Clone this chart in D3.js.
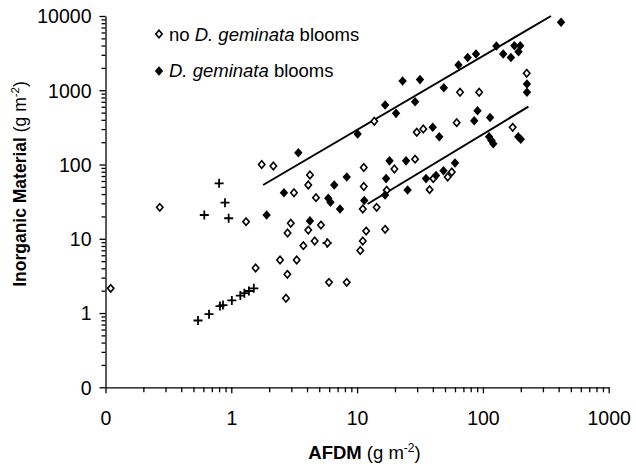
<!DOCTYPE html>
<html>
<head>
<meta charset="utf-8">
<script src="https://cdnjs.cloudflare.com/ajax/libs/d3/7.8.5/d3.min.js"></script>
<style>
  body { margin: 0; background: #fff; }
  svg { display: block; font-family: Arial, "Liberation Sans", sans-serif; }
</style>
</head>
<body>
<div id="chart"></div>
<script>
// Inorganic material vs AFDM, log-log scatter

// Sites without D. geminata blooms (open diamonds)
const noBloomAfdm = [0.11, 0.27, 1.31, 1.56, 1.745, 2.16, 2.44, 2.79, 2.72, 3.31, 2.8, 3.74, 4.09, 4.6,
  2.97, 3.15, 4.09, 4.22, 4.71, 5.16, 5.82, 5.98, 8.27, 10.6, 11.1, 11.8, 16.7, 11.3, 11.3, 11.1,
  14.3, 17.2, 19.8, 13.7, 28.9, 37.7, 40.3, 52.5, 56.6, 29.8, 33.6, 61.9, 65.8, 93.4, 172.5, 223];
const noBloomInorg = [2.15, 26.5, 17.0, 4.04, 100, 95.5, 5.18, 3.32, 1.58, 5.18, 11.96, 8.07, 13.1, 9.33,
  16.2, 41.7, 53.0, 72.3, 35.8, 15.3, 8.77, 2.59, 2.59, 6.95, 9.33, 12.7, 13.4, 91.2, 50.6, 25.2,
  26.5, 45.0, 87.0, 382, 118, 45.9, 64.6, 67.9, 79.3, 272, 301, 366, 939, 939, 317, 1692];

// Sites with D. geminata blooms (filled diamonds)
const bloomAfdm = [1.91, 2.62, 3.41, 4.22, 5.9, 6.14, 6.58, 7.31, 8.27, 10.1, 11.4, 16.7, 17.0, 16.7,
  18.1, 20.4, 23.0, 24.5, 25.2, 28.9, 31.6, 35.3, 39.9, 42.4, 45.0, 48.6, 60.0, 48.9, 64.0, 75.7,
  88.1, 85.3, 90.6, 112, 117, 121, 114, 128, 145, 167, 178, 198, 192, 191, 200, 224, 224, 418];
const bloomInorg = [20.9, 41.7, 144, 17.4, 35.1, 31.0, 53.0, 25.2, 67.9, 258, 32.8, 633, 64.6, 38.9,
  112, 489, 1332, 112, 45.4, 701, 1392, 64.6, 317, 71.1, 237, 82.5, 105, 1082, 2188, 2761,
  3078, 388, 529, 237, 211, 190, 430, 3945, 3078, 2761, 3969, 3969, 3305, 237, 219, 1214, 939, 8225];

// Other points (crosses, not in legend)
const otherAfdm = [0.544, 0.665, 0.813, 0.859, 1.01, 1.18, 1.27, 1.38, 1.51, 0.80, 0.891, 0.61, 0.953, 5.77];
const otherInorg = [0.793, 0.965, 1.24, 1.28, 1.48, 1.72, 1.85, 1.98, 2.15, 55.9, 30.6, 20.9, 18.9, 8.77];

// Fitted lines (end points)
const upperLineAfdm = [1.79, 348];
const upperLineInorg = [53.0, 10000];
const lowerLineAfdm = [12.1, 230];
const lowerLineInorg = [29.4, 601];

// Axis ticks
const xTickValues = [0.1, 1, 10, 100, 1000];
const xTickLabels = ["0", "1", "10", "100", "1000"];
const yTickValues = [0.1, 1, 10, 100, 1000, 10000];
const yTickLabels = ["0", "1", "10", "100", "1000", "10000"];

const width = 636, height = 464;

const svg = d3.select("#chart").append("svg")
  .attr("width", width)
  .attr("height", height);

const x = d3.scaleLog().domain([0.1, 1000]).range([105.5, 608.7]);
const y = d3.scaleLog().domain([0.1, 10000]).range([387.3, 16]);

// minor ticks 2..9 within each decade
function minorTicks(values) {
  const out = [];
  for (let i = 0; i < values.length - 1; i++) {
    for (let k = 2; k <= 9; k++) out.push(values[i] * k);
  }
  return out;
}

// x axis
const xAxisG = svg.append("g").attr("transform", `translate(0,${y(0.1)})`);
xAxisG.call(d3.axisBottom(x).tickValues(minorTicks(xTickValues)).tickSize(5).tickSizeOuter(0).tickFormat(""));
xAxisG.call(g => g.selectAll(".domain").remove());
const xMajor = svg.append("g").attr("transform", `translate(0,${y(0.1)})`)
  .call(d3.axisBottom(x).tickValues(xTickValues).tickSize(6).tickSizeOuter(0)
    .tickFormat((d, i) => xTickLabels[i]));
xMajor.selectAll("text")
  .attr("y", 37.7).attr("dy", null)
  .attr("font-size", 19.5).attr("fill", "#000")
  .attr("font-family", "Arial, 'Liberation Sans', sans-serif");

// y axis
const yAxisG = svg.append("g").attr("transform", `translate(${x(0.1)},0)`);
yAxisG.call(d3.axisLeft(y).tickValues(minorTicks(yTickValues)).tickSize(4).tickSizeOuter(0).tickFormat(""));
yAxisG.call(g => g.selectAll(".domain").remove());
const yMajor = svg.append("g").attr("transform", `translate(${x(0.1)},0)`)
  .call(d3.axisLeft(y).tickValues(yTickValues).tickSize(6).tickSizeOuter(0)
    .tickFormat((d, i) => yTickLabels[i]));
yMajor.selectAll("text")
  .attr("x", -14).attr("dy", "0.35em")
  .attr("font-size", 19.5).attr("fill", "#000")
  .attr("font-family", "Arial, 'Liberation Sans', sans-serif");

svg.selectAll(".domain, .tick line").attr("stroke", "#000").attr("stroke-width", 1.3);

// fitted lines
const line = d3.line().x(d => x(d[0])).y(d => y(d[1]));
[[upperLineAfdm, upperLineInorg], [lowerLineAfdm, lowerLineInorg]].forEach(([xs, ys]) => {
  svg.append("path")
    .attr("d", line(xs.map((v, i) => [v, ys[i]])))
    .attr("stroke", "#000")
    .attr("stroke-width", 2)
    .attr("fill", "none");
});

function diamond(w, h) {
  return `M0,${-h}L${w},0L0,${h}L${-w},0Z`;
}

// crosses
svg.append("g").selectAll("path")
  .data(otherAfdm.map((v, i) => [v, otherInorg[i]]))
  .enter().append("path")
  .attr("transform", d => `translate(${x(d[0])},${y(d[1])})`)
  .attr("d", "M-4.5,0H4.5M0,-4.5V4.5")
  .attr("stroke", "#000")
  .attr("stroke-width", 1.8);

// open diamonds
svg.append("g").selectAll("path")
  .data(noBloomAfdm.map((v, i) => [v, noBloomInorg[i]]))
  .enter().append("path")
  .attr("transform", d => `translate(${x(d[0])},${y(d[1])})`)
  .attr("d", diamond(3.2, 3.7))
  .attr("fill", "#fff")
  .attr("stroke", "#000")
  .attr("stroke-width", 1.6);

// filled diamonds
svg.append("g").selectAll("path")
  .data(bloomAfdm.map((v, i) => [v, bloomInorg[i]]))
  .enter().append("path")
  .attr("transform", d => `translate(${x(d[0])},${y(d[1])})`)
  .attr("d", diamond(4.2, 4.8))
  .attr("fill", "#000");

// legend
const legend = svg.append("g");
legend.append("path").attr("transform", "translate(159,34)")
  .attr("d", diamond(3.2, 3.7)).attr("fill", "#fff").attr("stroke", "#000").attr("stroke-width", 1.6);
legend.append("path").attr("transform", "translate(159,71)")
  .attr("d", diamond(4.2, 4.8)).attr("fill", "#000");

const t1 = legend.append("text").attr("x", 169).attr("y", 40.5).attr("font-size", 18.5);
t1.append("tspan").text("no ");
t1.append("tspan").attr("font-style", "italic").text("D. geminata");
t1.append("tspan").text(" blooms");
const t2 = legend.append("text").attr("x", 169).attr("y", 77).attr("font-size", 18.5);
t2.append("tspan").attr("font-style", "italic").text("D. geminata");
t2.append("tspan").text(" blooms");

// axis titles
const xt = svg.append("text").attr("x", 364.5).attr("y", 459)
  .attr("text-anchor", "middle").attr("font-size", 18.5);
xt.append("tspan").attr("font-weight", "bold").text("AFDM");
xt.append("tspan").text(" (g m");
xt.append("tspan").attr("font-size", 12).attr("dy", -7).text("-2");
xt.append("tspan").attr("dy", 7).text(")");

const yt = svg.append("text").attr("transform", "translate(26,184) rotate(-90)")
  .attr("text-anchor", "middle").attr("font-size", 17.5);
yt.append("tspan").attr("font-weight", "bold").text("Inorganic Material");
yt.append("tspan").text(" (g m");
yt.append("tspan").attr("font-size", 11.5).attr("dy", -7).text("-2");
yt.append("tspan").attr("dy", 7).text(")");
</script>
</body>
</html>
